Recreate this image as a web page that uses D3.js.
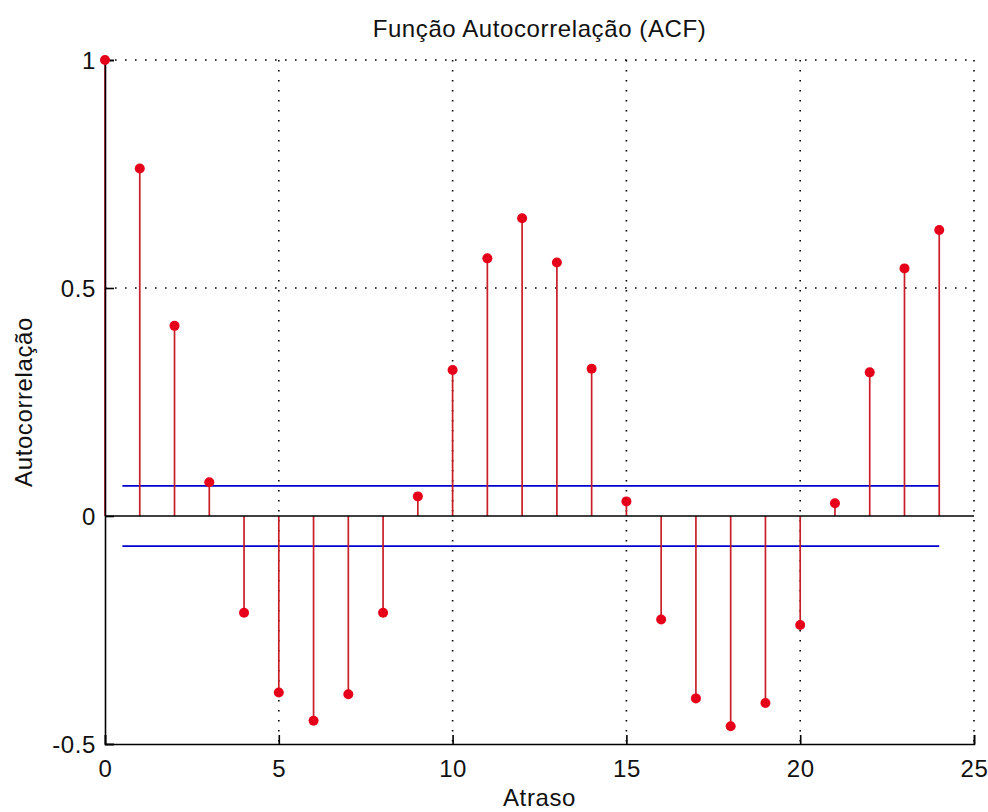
<!DOCTYPE html>
<html><head><meta charset="utf-8">
<script src="https://cdn.jsdelivr.net/npm/d3@7"></script>
<style>body{margin:0;background:#fff}svg{display:block}text{font-family:"Liberation Sans",Arial,sans-serif;fill:#111;letter-spacing:0.6px}</style>
</head><body><svg id="c" width="988" height="812"></svg>
<script>
const lags = d3.range(0, 25);
const acf = [1, 0.762, 0.417, 0.074, -0.212, -0.387, -0.449, -0.391, -0.212, 0.043, 0.32, 0.565, 0.653, 0.556, 0.323, 0.032, -0.227, -0.4, -0.461, -0.41, -0.239, 0.028, 0.315, 0.543, 0.627];
const bound = 0.066;
const boundRange = [0.5, 24];
const xTicks = [0, 5, 10, 15, 20, 25];
const yTicks = [-0.5, 0, 0.5, 1];
const yTickLabels = ["-0.5", "0", "0.5", "1"];
const title = "Função Autocorrelação (ACF)";
const xLabel = "Atraso";
const yLabel = "Autocorrelação";

const svg = d3.select("#c");
const x = d3.scaleLinear().domain([0, 25]).range([105, 974]);
const y = d3.scaleLinear().domain([-0.5, 1]).range([744, 60]);

const grid = svg.append("g").attr("stroke", "#000").attr("stroke-width", 1.6).attr("stroke-dasharray", "1.6,8.4");
grid.selectAll("line.v").data(xTicks.filter(d => d > 0)).join("line")
  .attr("x1", d => x(d)).attr("x2", d => x(d)).attr("y1", y(1)).attr("y2", y(-0.5));
grid.selectAll("line.h").data([0.5, 1]).join("line")
  .attr("x1", x(0)).attr("x2", x(25)).attr("y1", d => y(d)).attr("y2", d => y(d));

// confidence bounds
svg.append("g").selectAll("line").data([bound, -bound]).join("line")
  .attr("x1", x(boundRange[0])).attr("x2", x(boundRange[1]))
  .attr("y1", d => y(d)).attr("y2", d => y(d))
  .attr("stroke", "#0000cc").attr("stroke-width", 1.6);

// stems
svg.append("g").selectAll("line").data(lags).join("line")
  .attr("x1", d => x(d)).attr("x2", d => x(d))
  .attr("y1", y(0)).attr("y2", d => y(acf[d]))
  .attr("stroke", "#c81e28").attr("stroke-width", 1.7);

// zero line
svg.append("line").attr("x1", x(0)).attr("x2", x(25)).attr("y1", y(0)).attr("y2", y(0))
  .attr("stroke", "#000").attr("stroke-width", 1.6);

// axes
const ax = svg.append("g").attr("transform", `translate(0,${y(-0.5)})`)
  .call(d3.axisBottom(x).tickValues(xTicks).tickSize(-9).tickPadding(16).tickFormat(d3.format("d")));
const ay = svg.append("g").attr("transform", `translate(${x(0)},0)`)
  .call(d3.axisLeft(y).tickValues(yTicks).tickSize(-9).tickPadding(9).tickFormat((d, i) => yTickLabels[i]));
[ax, ay].forEach(g => {
  g.select(".domain").attr("stroke", "#000").attr("stroke-width", 1.6);
  g.selectAll(".tick line").attr("stroke", "#000").attr("stroke-width", 1.6);
  g.selectAll(".tick text").attr("font-size", 24).attr("font-family", "Liberation Sans, Arial, sans-serif").attr("fill", "#111");
});
ax.selectAll(".tick text").attr("dy", "0.71em");
ay.selectAll(".tick text").attr("dy", "0.36em");

// markers
svg.append("g").selectAll("circle").data(lags).join("circle")
  .attr("cx", d => x(d)).attr("cy", d => y(acf[d])).attr("r", 5)
  .attr("fill", "#e6001a");

svg.append("text").attr("x", (x(0) + x(25)) / 2).attr("y", 37).attr("text-anchor", "middle")
  .attr("font-size", 24).text(title);
svg.append("text").attr("x", (x(0) + x(25)) / 2).attr("y", 806).attr("text-anchor", "middle")
  .attr("font-size", 24).text(xLabel);
svg.append("text").attr("transform", `translate(32,${(y(1) + y(-0.5)) / 2}) rotate(-90)`)
  .attr("text-anchor", "middle").attr("font-size", 24).text(yLabel);
</script></body></html>
